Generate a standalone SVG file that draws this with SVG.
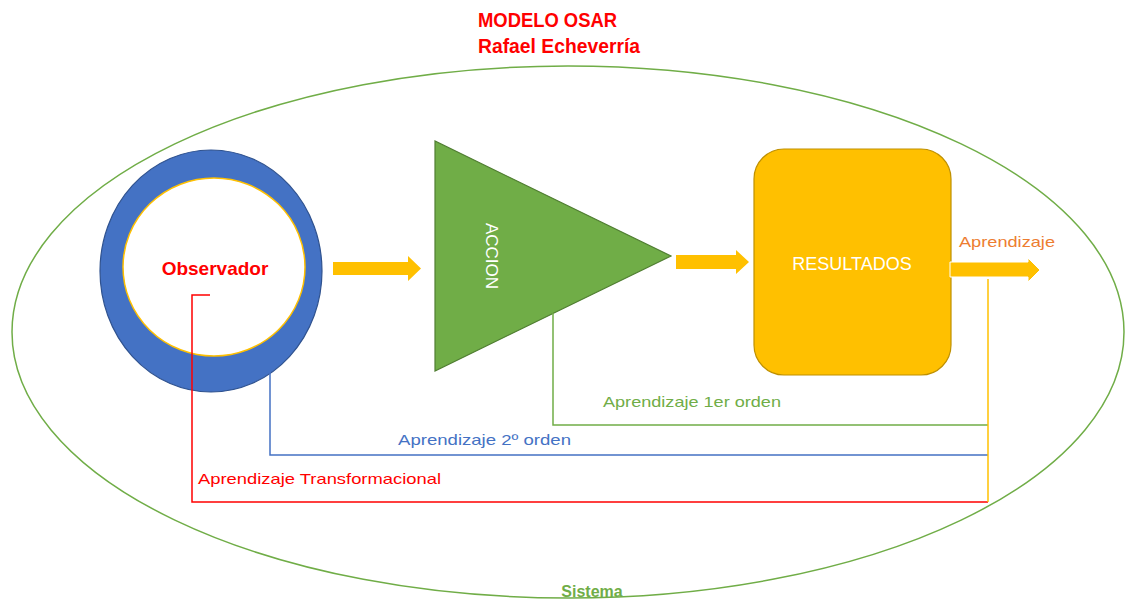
<svg xmlns="http://www.w3.org/2000/svg" width="1126" height="601" viewBox="0 0 1126 601">
<style>
.lbl{font-family:"Liberation Sans",Arial,sans-serif;font-size:15px}
.title{font-family:"Liberation Sans",Arial,sans-serif;font-size:20px;font-weight:bold;fill:#FF0000}
.arrow{fill:#FFC000}
.conn{fill:none;stroke-width:1.5}
</style>
<rect width="1126" height="601" fill="#FFFFFF"/>
<g id="sistema">
<ellipse cx="568" cy="332" rx="556" ry="266" fill="none" stroke="#70AD47" stroke-width="1.5"/>
<text x="592" y="597" text-anchor="middle" font-family="'Liberation Sans',Arial,sans-serif" font-size="16" font-weight="bold" fill="#70AD47">Sistema</text>
</g>
<g id="titulo">
<text class="title" x="478" y="27" textLength="139" lengthAdjust="spacingAndGlyphs">MODELO OSAR</text>
<text class="title" x="478" y="53" textLength="162" lengthAdjust="spacingAndGlyphs">Rafael Echeverría</text>
</g>
<g id="observador">
<ellipse cx="211" cy="271" rx="111" ry="121" fill="#4472C4" stroke="#2F528F" stroke-width="1.2"/>
<ellipse cx="214" cy="267" rx="91" ry="89" fill="#FFFFFF" stroke="#FFC000" stroke-width="1.5"/>
<text x="215" y="275" text-anchor="middle" font-family="'Liberation Sans',Arial,sans-serif" font-size="19" font-weight="bold" fill="#FF0000">Observador</text>
</g>
<g id="accion">
<polygon points="435,141 435,371 671,256" fill="#70AD47" stroke="#507E32" stroke-width="1.2"/>
<text transform="translate(486,256) rotate(90)" text-anchor="middle" font-family="'Liberation Sans',Arial,sans-serif" font-size="17" fill="#FFFFFF">ACCION</text>
</g>
<g id="resultados">
<rect x="754" y="149" width="197" height="226" rx="30" fill="#FFC000" stroke="#BF9000" stroke-width="1.2"/>
<text x="852" y="270" text-anchor="middle" font-family="'Liberation Sans',Arial,sans-serif" font-size="18" fill="#FFFFFF">RESULTADOS</text>
</g>
<g id="connectors">
<polyline class="conn" stroke="#FF0000" points="210,295 192,295 192,502 988,502"/>
<polyline class="conn" stroke="#4472C4" points="270,370 270,455 988,455"/>
<polyline class="conn" stroke="#70AD47" points="553,313 553,425 988,425"/>
<line class="conn" stroke="#FFC000" x1="988" y1="279" x2="988" y2="502"/>
<polygon class="arrow" points="333,262 408,262 408,256 421,268.5 408,281 408,275 333,275"/>
<polygon class="arrow" points="676,255 736,255 736,250 749,262 736,274 736,269 676,269"/>
<polygon class="arrow" points="950,262 1028,262 1028,258 1040,270 1028,282 1028,277 950,277" stroke="#FFFFFF" stroke-width="1"/>
</g>
<g id="labels">
<text class="lbl" x="959" y="247" fill="#ED7D31" textLength="96" lengthAdjust="spacingAndGlyphs">Aprendizaje</text>
<text class="lbl" x="603" y="407" fill="#70AD47" textLength="178" lengthAdjust="spacingAndGlyphs">Aprendizaje 1er orden</text>
<text class="lbl" x="398" y="445" fill="#4472C4" textLength="173" lengthAdjust="spacingAndGlyphs">Aprendizaje 2º orden</text>
<text class="lbl" x="198" y="484" fill="#FF0000" textLength="243" lengthAdjust="spacingAndGlyphs">Aprendizaje Transformacional</text>
</g>
</svg>
